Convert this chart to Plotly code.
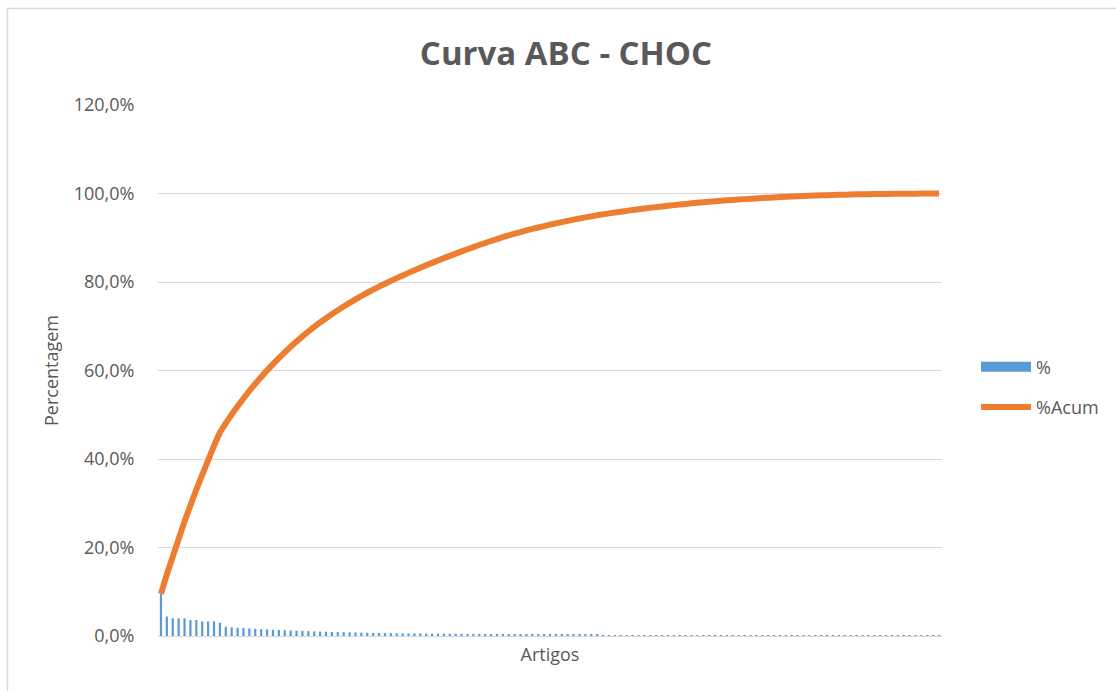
import plotly.graph_objects as go
from itertools import accumulate

# % share of each article (sorted descending)
pct = [
    9.5, 4.4, 4.0, 4.0, 4.0, 3.6, 3.6, 3.3, 3.3, 3.3, 3.0,
    2.1, 1.95, 1.85, 1.78, 1.7, 1.62, 1.55, 1.48,
    1.42, 1.36, 1.3, 1.25, 1.2,
    1.15, 1.1, 1.05, 1.0, 0.96, 0.92, 0.88, 0.85, 0.82, 0.79, 0.76, 0.73, 0.7, 0.68, 0.66, 0.64, 0.62,
    0.60, 0.59, 0.58, 0.57, 0.56, 0.55, 0.54, 0.53, 0.52, 0.51, 0.50, 0.49, 0.48, 0.47, 0.46, 0.45, 0.44,
    0.42, 0.40, 0.39, 0.37, 0.36, 0.34, 0.33, 0.32, 0.31, 0.30, 0.29, 0.28, 0.27, 0.26, 0.25, 0.24, 0.23,
    0.22, 0.21, 0.20, 0.19, 0.185, 0.18, 0.175, 0.17, 0.165, 0.16, 0.155, 0.15, 0.145, 0.14, 0.135, 0.13, 0.125,
    0.12, 0.115, 0.11, 0.105, 0.1, 0.096, 0.092, 0.088, 0.084, 0.08, 0.077, 0.074, 0.071, 0.068, 0.065, 0.062, 0.06,
    0.057, 0.054, 0.051, 0.048, 0.045, 0.042, 0.039, 0.036, 0.033, 0.03, 0.027, 0.024, 0.021, 0.018, 0.015, 0.012, 0.01,
    0.012, 0.011, 0.01, 0.009, 0.009, 0.008, 0.007,
]
acum = list(accumulate(pct))
artigos = list(range(1, len(pct) + 1))

y_ticks = [0, 20, 40, 60, 80, 100, 120]
y_tick_labels = ["0,0%", "20,0%", "40,0%", "60,0%", "80,0%", "100,0%", "120,0%"]

title = "Curva ABC - CHOC"
FONT = "Open Sans"
GRAY = "#595959"
GRID = "#d9d9d9"
BLUE = "#5b9bd5"
ORANGE = "#ed7d31"

fig = go.Figure()
fig.add_trace(go.Bar(
    x=artigos, y=pct, name="%", marker=dict(color=BLUE, line=dict(width=0)),
    showlegend=False,
))
# legend entry for the bars (wide rectangle like the reference)
fig.add_trace(go.Scatter(
    x=[None], y=[None], name="%", mode="lines",
    line=dict(color=BLUE, width=12), legendgroup="a",
))
fig.add_trace(go.Scatter(
    x=artigos, y=acum, name="%Acum", mode="lines",
    line=dict(color=ORANGE, width=6, shape="linear", simplify=False),
    legendgroup="b",
))

W, H = 1116, 691
L, R, T, B = 158, 1116 - 942, 105, 691 - 636
pw, ph = W - L - R, H - T - B

fig.add_shape(
    type="rect", xref="paper", yref="paper",
    x0=(7.5 - L) / pw, x1=(1125 - L) / pw,
    y0=(636 - 700) / ph, y1=(636 - 8.5) / ph,
    line=dict(color=GRID, width=1.5), fillcolor="rgba(0,0,0,0)", layer="below",
)

fig.update_layout(
    width=W, height=H,
    margin=dict(l=L, r=R, t=T, b=B, pad=0),
    paper_bgcolor="white", plot_bgcolor="white",
    font=dict(family=FONT, color=GRAY, size=18),
    title=dict(text=title, x=566 / W, xref="container",
               xanchor="center", y=1 - 53 / H, yanchor="middle",
               font=dict(family=FONT, size=33, color=GRAY, weight=700)),
    bargap=0.62,
    showlegend=True,
    legend=dict(x=(976 - L) / pw, xanchor="left", y=(636 - 387) / ph, yanchor="middle",
                font=dict(size=18, color=GRAY), itemwidth=50, tracegroupgap=14,
                bgcolor="rgba(0,0,0,0)"),
    xaxis=dict(
        range=[0.5, len(pct) + 0.5], showticklabels=False, showgrid=False,
        showline=True, linecolor=GRID, linewidth=1, ticks="", zeroline=False,
        title=dict(text="Artigos", standoff=12, font=dict(size=18, color=GRAY)),
    ),
    yaxis=dict(
        range=[0, 120], tickvals=y_ticks, ticktext=y_tick_labels,
        showgrid=True, gridcolor=GRID, gridwidth=1, zeroline=False, showline=False,
        ticks="outside", ticklen=19, tickcolor="rgba(0,0,0,0)",
        tickfont=dict(size=18, color=GRAY),
        title=dict(text="Percentagem", standoff=10, font=dict(size=18, color=GRAY)),
    ),
)

fig.write_html("out.html")
